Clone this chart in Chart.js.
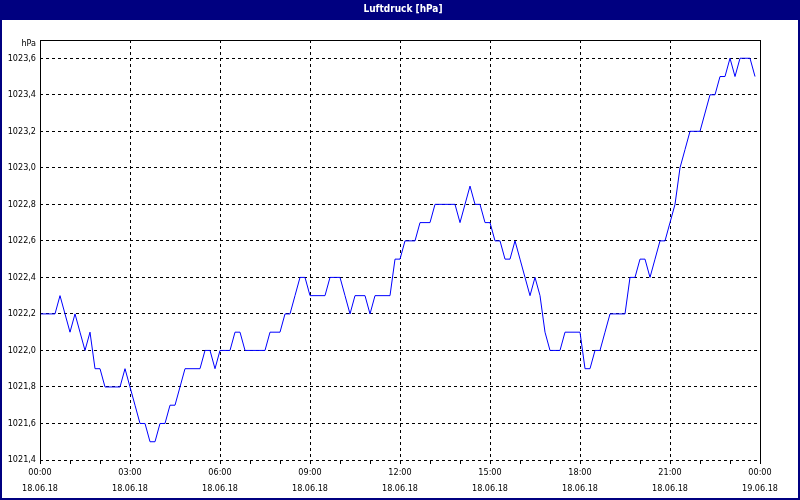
<!DOCTYPE html>
<html>
<head>
<meta charset="utf-8">
<script src="https://cdn.jsdelivr.net/npm/chart.js@4"></script>
<style>
  html, body { margin: 0; padding: 0; background: #fff; }
  #wrap { width: 800px; height: 500px; }
</style>
</head>
<body>
<div id="wrap"><canvas id="myChart" width="800" height="500"></canvas></div>
<script>
// sample interval of the logger (minutes) and pressure values 00:00 .. 23:50
const stepMinutes = 10;
const pressure = [
  1022.2, 1022.2, 1022.2, 1022.2, 1022.3, 1022.2, 1022.1, 1022.2, 1022.1, 1022.0,
  1022.1, 1021.9, 1021.9, 1021.8, 1021.8, 1021.8, 1021.8, 1021.9, 1021.8, 1021.7,
  1021.6, 1021.6, 1021.5, 1021.5, 1021.6, 1021.6, 1021.7, 1021.7, 1021.8, 1021.9,
  1021.9, 1021.9, 1021.9, 1022.0, 1022.0, 1021.9, 1022.0, 1022.0, 1022.0, 1022.1,
  1022.1, 1022.0, 1022.0, 1022.0, 1022.0, 1022.0, 1022.1, 1022.1, 1022.1, 1022.2,
  1022.2, 1022.3, 1022.4, 1022.4, 1022.3, 1022.3, 1022.3, 1022.3, 1022.4, 1022.4,
  1022.4, 1022.3, 1022.2, 1022.3, 1022.3, 1022.3, 1022.2, 1022.3, 1022.3, 1022.3,
  1022.3, 1022.5, 1022.5, 1022.6, 1022.6, 1022.6, 1022.7, 1022.7, 1022.7, 1022.8,
  1022.8, 1022.8, 1022.8, 1022.8, 1022.7, 1022.8, 1022.9, 1022.8, 1022.8, 1022.7,
  1022.7, 1022.6, 1022.6, 1022.5, 1022.5, 1022.6, 1022.5, 1022.4, 1022.3, 1022.4,
  1022.3, 1022.1, 1022.0, 1022.0, 1022.0, 1022.1, 1022.1, 1022.1, 1022.1, 1021.9,
  1021.9, 1022.0, 1022.0, 1022.1, 1022.2, 1022.2, 1022.2, 1022.2, 1022.4, 1022.4,
  1022.5, 1022.5, 1022.4, 1022.5, 1022.6, 1022.6, 1022.7, 1022.8, 1023.0, 1023.1,
  1023.2, 1023.2, 1023.2, 1023.3, 1023.4, 1023.4, 1023.5, 1023.5, 1023.6, 1023.5,
  1023.6, 1023.6, 1023.6, 1023.5
];

// axis labels
const timeLabels = ['00:00', '03:00', '06:00', '09:00', '12:00', '15:00', '18:00', '21:00', '00:00'];
const dateLabels = ['18.06.18', '18.06.18', '18.06.18', '18.06.18', '18.06.18', '18.06.18', '18.06.18', '18.06.18', '19.06.18'];
const yTicks = [1021.4, 1021.6, 1021.8, 1022.0, 1022.2, 1022.4, 1022.6, 1022.8, 1023.0, 1023.2, 1023.4, 1023.6];
const yMin = 1021.4;
const yMax = 1023.7;
const unitLabel = 'hPa';
const titleText = 'Luftdruck [hPa]';

const FONT = "'DejaVu Sans Condensed', 'DejaVu Sans', sans-serif";
const NAVY = '#000080';

const points = pressure.map((v, i) => ({ x: i * stepMinutes, y: v }));

// window frame + title bar (the title sits centred on the window, not the plot)
const backgroundPlugin = {
  id: 'background',
  beforeDraw(chart) {
    const c = chart.ctx;
    c.save();
    c.fillStyle = NAVY;
    c.fillRect(0, 0, chart.width, chart.height);
    c.fillStyle = '#ffffff';
    c.fillRect(2, 20, chart.width - 4, chart.height - 22);
    c.fillStyle = '#ffffff';
    c.font = 'bold 10px ' + FONT;
    c.textAlign = 'center';
    c.textBaseline = 'middle';
    c.fillText(titleText, 403, 9);
    c.restore();
  }
};

// solid plot frame and the unit text above the y labels
const framePlugin = {
  id: 'frame',
  afterDraw(chart) {
    const a = chart.chartArea;
    const c = chart.ctx;
    const l = Math.round(a.left) + 0.5, r = Math.round(a.right) + 0.5;
    const t = Math.round(a.top) + 0.5, b = Math.round(a.bottom) + 0.5;
    c.save();
    c.setLineDash([]);
    c.strokeStyle = '#000';
    c.lineWidth = 1;
    c.beginPath();
    c.moveTo(l, b);
    c.lineTo(l, t);
    c.lineTo(r, t);
    c.lineTo(r, b);
    c.stroke();
    c.fillStyle = '#000';
    c.font = '9px ' + FONT;
    c.textAlign = 'right';
    c.textBaseline = 'middle';
    c.fillText(unitLabel, a.left - 4, a.top + 4);
    c.restore();
  }
};

const ctx = document.getElementById('myChart').getContext('2d');

new Chart(ctx, {
  type: 'line',
  data: {
    datasets: [{
      data: points,
      borderColor: '#0000ff',
      borderWidth: 1,
      pointRadius: 0,
      tension: 0,
      fill: false
    }]
  },
  options: {
    responsive: false,
    animation: false,
    layout: { padding: { left: 2, right: 40, top: 40, bottom: 0 } },
    plugins: {
      legend: { display: false },
      tooltip: { enabled: false },
      title: { display: false }
    },
    scales: {
      x: {
        type: 'linear',
        min: 0,
        max: 1440,
        afterBuildTicks: (scale) => {
          const t = [];
          for (let m = 0; m <= 1440; m += 60) t.push({ value: m });
          scale.ticks = t;
        },
        afterFit: (scale) => { scale.height = 40; },
        grid: {
          color: (c) => (c.tick && c.tick.value % 180 === 0) ? '#000' : 'rgba(0,0,0,0)',
          lineWidth: 1,
          drawTicks: true,
          tickLength: 4,
          tickColor: '#000'
        },
        border: { display: false, dash: [3, 3] },
        ticks: {
          autoSkip: false,
          maxRotation: 0,
          padding: 1,
          color: '#000',
          font: { family: FONT, size: 9, lineHeight: 1.78 },
          callback: (value) => {
            if (value % 180 !== 0) return '';
            const k = value / 180;
            return [timeLabels[k], dateLabels[k]];
          }
        }
      },
      y: {
        min: yMin,
        max: yMax,
        afterBuildTicks: (scale) => {
          scale.ticks = yTicks.map(v => ({ value: v }));
        },
        afterFit: (scale) => { scale.width = 38; },
        grid: {
          color: '#000',
          lineWidth: 1,
          drawTicks: false
        },
        border: { display: false, dash: [3, 3] },
        ticks: {
          padding: 4,
          color: '#000',
          font: { family: FONT, size: 9 },
          callback: (value) => Number(value).toFixed(1).replace('.', ',')
        }
      }
    }
  },
  plugins: [backgroundPlugin, framePlugin]
});
</script>
</body>
</html>
